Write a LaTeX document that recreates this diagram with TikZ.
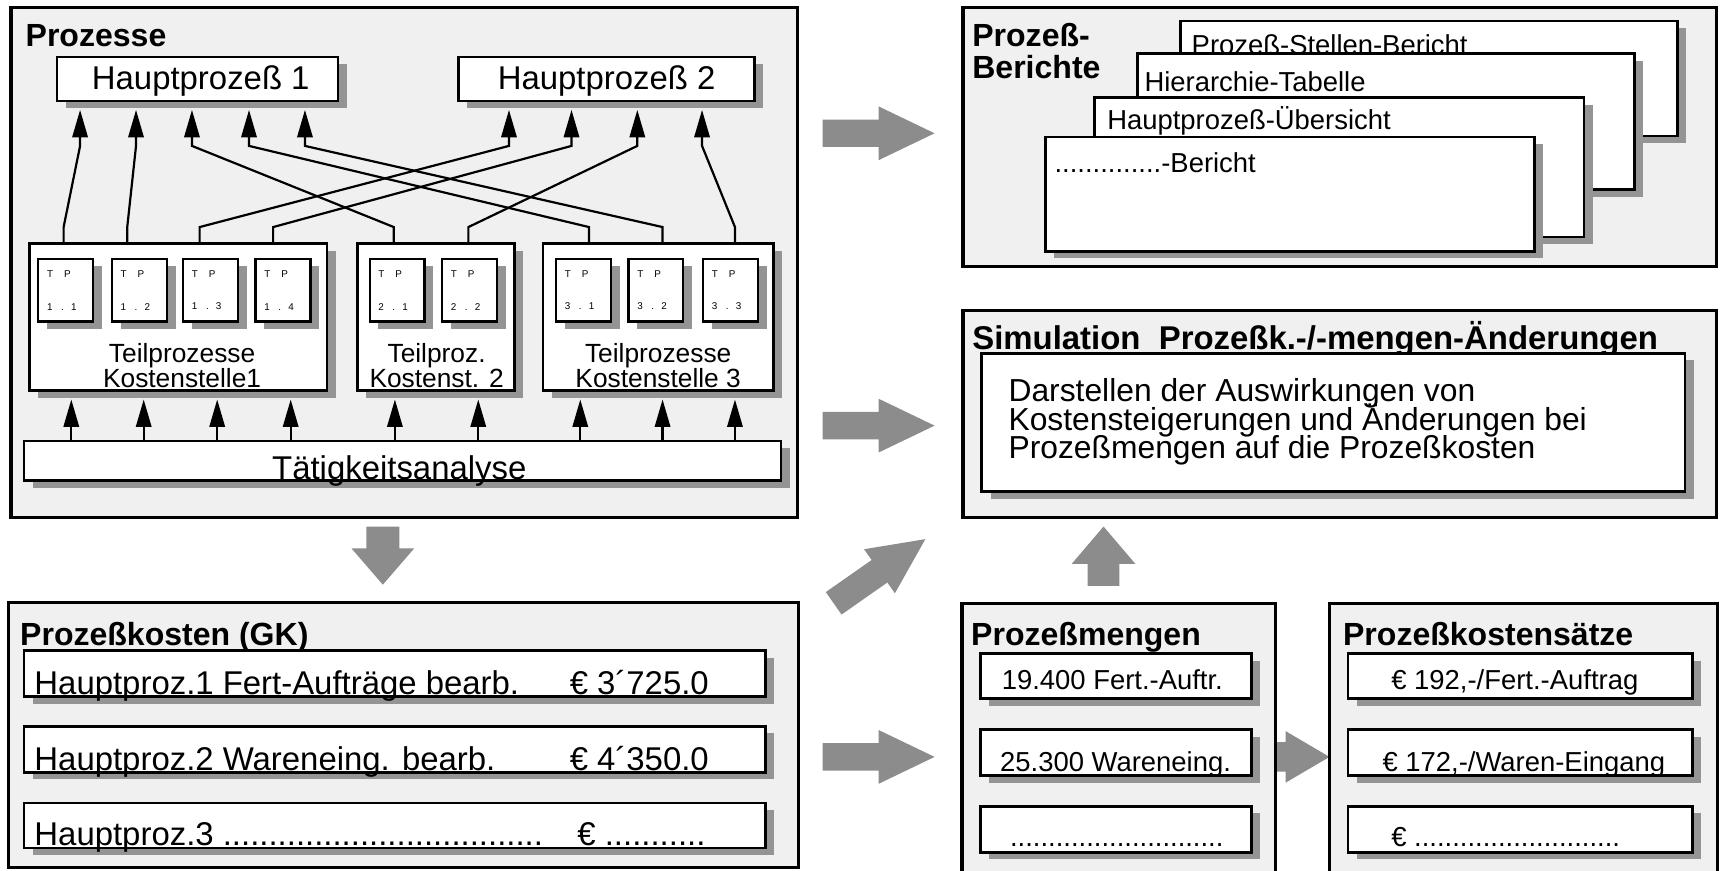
\documentclass[tikz,border=0pt]{standalone}
\usepackage{fontspec}
\setmainfont{Liberation Sans}
\usepackage{xcolor}
\usepackage{tikz}
\usetikzlibrary{arrows.meta,positioning,fit,shadows}

\definecolor{panelgray}{gray}{0.94}
\definecolor{shadegray}{gray}{0.58}
\definecolor{arrowgray}{gray}{0.55}

\newcommand{\fbig}{\fontsize{15}{14}\selectfont}
\newcommand{\fsim}{\fontsize{14.5}{13}\selectfont}
\newcommand{\fsmall}{\fontsize{12.5}{12}\selectfont}
\newcommand{\fmid}{\fontsize{12}{11.5}\selectfont}
\newcommand{\ftiny}{\fontsize{4.5}{15}\selectfont}
\newcommand{\ftitle}{\bfseries\fontsize{14.6}{15}\selectfont}

\tikzset{
  pics/blockarrow/.style args={#1/#2/#3/#4}{code={
    \fill[arrowgray] (0,-#3) -- ({#1-#2},-#3) -- ({#1-#2},-#4) -- (#1,0)
      -- ({#1-#2},#4) -- ({#1-#2},#3) -- (0,#3) -- cycle;
  }}
}

\begin{document}
\begin{tikzpicture}[
  x=0.5pt, y=-0.5pt,
  panel/.style={draw, line width=1.5pt, fill=panelgray, inner sep=0pt},
  box/.style={draw, line width=1.2pt, fill=white, inner sep=0pt,
    drop shadow={shadow xshift=4pt, shadow yshift=-3.25pt, fill=shadegray, opacity=1}},
  tp/.style={box, line width=1pt, minimum width=25pt, minimum height=28.5pt,
    text width=17pt, align=left, font=\ftiny},
  title/.style={font=\ftitle, anchor=base west, inner sep=0pt},
  txt/.style={anchor=base west, inner sep=0pt},
  link/.style={-{Triangle[length=12.5pt, width=7pt]}, line width=1pt, shorten >=3.5pt}
]
\path[use as bounding box, clip] (0,0) rectangle (1568,794);

% Block arrows
\pic at (750,121.5) {blockarrow=102/51/12.5/24.5};
\pic at (750,388) {blockarrow=102/51/12.5/24.5};
\pic[rotate=35] at (760,550) {blockarrow=102/51/12.5/24.5};
\pic at (750,690) {blockarrow=102/51/12.5/24.5};
\pic[rotate=-90] at (349,480) {blockarrow=53/33/15/28.5};
\pic[rotate=90] at (1006,534) {blockarrow=54/34/14.5/29};
\pic at (1158,690) {blockarrow=54/40/13.5/23.5};

% Panels
\node[panel, fit={(10,7) (727,472)}] (proz) {};
\node[panel, fit={(878,7) (1565,243)}] (ber) {};
\node[panel, fit={(878,283) (1565,472)}] (sim) {};
\node[panel, fit={(8,549) (728,791)}] (kost) {};
\node[panel, fit={(877,550) (1163,800)}] (meng) {};
\node[panel, fit={(1212,550) (1566,800)}] (satz) {};

% Prozesse
\node[title] (tproz) at (23,42) {Prozesse};
\node[box, fit={(52,52) (308,92)}] (hp1) {};
\node[box, fit={(418,52) (688,92)}] (hp2) {};
\node[anchor=base, inner sep=0pt, font=\fbig] (hp1txt) at (183,82) {Hauptprozeß 1};
\node[anchor=base, inner sep=0pt, font=\fbig] (hp2txt) at (553,82) {Hauptprozeß 2};
\node[box, fit={(27,222) (298,356)}] (k1) {};
\node[box, fit={(326,222) (469,356)}] (k2) {};
\node[box, fit={(495,222) (705,356)}] (k3) {};
\foreach \x/\a/\b in {35/1/1, 102/1/2, 167/1/3, 233/1/4, 337/2/1, 403/2/2, 507/3/1, 573/3/2, 641/3/3}
  \node[tp] (tp\a\b) at (\x+25,264.5) {T\hspace{5pt}P\\\a\hspace{3.9pt}.\hspace{3.3pt}\b};
\node[anchor=south, align=center, font=\fmid, inner sep=0pt] (k1txt) at (166,354) {Teilprozesse\\Kostenstelle1};
\node[anchor=south, align=center, font=\fmid, inner sep=0pt] (k2txt) at (398,354) {Teilproz.\\Kostenst. 2};
\node[anchor=south, align=center, font=\fmid, inner sep=0pt] (k3txt) at (600,354) {Teilprozesse\\Kostenstelle 3};
\node[box, fit={(22,402) (712,438)}] (tat) {};
\node[anchor=base, inner sep=0pt, font=\fbig] (tattxt) at (364,437) {Tätigkeitsanalyse};

% Connectors
\foreach \b/\k/\t/\h in {58/k1/73/hp1, 116/k1/124/hp1, 359/k2/175/hp1, 537/k3/227/hp1, 604/k3/278/hp1,
    182/k1/464/hp2, 249/k1/521/hp2, 427/k2/581/hp2, 670/k3/640/hp2}
  \draw[link] (\b,0 |- \k.north) -- (\b,207) -- (\t,133) -- (\t,0 |- \h.south);
\foreach \x/\k in {65/k1, 131/k1, 198/k1, 265/k1, 360/k2, 436/k2, 529/k3, 604/k3, 670/k3}
  \draw[link] (\x,0 |- tat.north) -- (\x,0 |- \k.south);

% Prozess-Berichte
\node[title] (tber1) at (886,42.5) {Prozeß-};
\node[title] (tber2) at (886,71.5) {Berichte};
\node[box, fit={(1076,19) (1529,124)}] (card1) {};
\node[txt, font=\fsmall] (card1txt) at (1086,50) {Prozeß-Stellen-Bericht};
\node[box, fit={(1037,49) (1490,173)}] (card2) {};
\node[txt, font=\fsmall] (card2txt) at (1043,83) {Hierarchie-Tabelle};
\node[box, fit={(998,89) (1444,216)}] (card3) {};
\node[txt, font=\fsmall] (card3txt) at (1009,118) {Hauptprozeß-Übersicht};
\node[box, fit={(953,125) (1399,229)}] (card4) {};
\node[txt, font=\fsmall] (card4txt) at (961,157) {..............-Bericht};

% Simulation
\node[title] (tsim) at (886,319) {\fontsize{15}{15}\selectfont Simulation\ \ Prozeßk.-/-mengen-Änderungen};
\node[box, fit={(895,322) (1536,448)}] (simbox) {};
\foreach \i/\t in {0/Darstellen der Auswirkungen von, 1/Kostensteigerungen und Änderungen bei, 2/Prozeßmengen auf die Prozeßkosten}
  \node[txt, font=\fsim] (simtxt\i) at (919,366+26*\i) {\t};

% Prozesskosten
\node[title] (tkost) at (18,588) {Prozeßkosten (GK)};
\node[box, fit={(22,593) (698,635)}] (row1) {};
\node[box, fit={(22,662) (698,704)}] (row2) {};
\node[box, fit={(22,732) (698,773)}] (row3) {};
\node[txt, font=\fbig] (row1a) at (31,633) {Hauptproz.1 Fert-Aufträge bearb.};
\node[txt, font=\fbig] (row1b) at (519,633) {€ 3´725.0};
\node[txt, font=\fbig] (row2a) at (31,702) {Hauptproz.2 Wareneing. bearb.};
\node[txt, font=\fbig] (row2b) at (519,702) {€ 4´350.0};
\node[txt, font=\fbig] (row3a) at (31,771) {Hauptproz.3 ...................................};
\node[txt, font=\fbig] (row3b) at (526,771) {€ ...........};

% Prozessmengen
\node[title] (tmeng) at (885,588) {Prozeßmengen};
\node[box, fit={(894,596) (1141,637)}] (m1) {};
\node[box, fit={(894,665) (1141,707)}] (m2) {};
\node[box, fit={(894,735) (1141,777)}] (m3) {};
\node[anchor=base, inner sep=0pt, font=\fsmall] (m1txt) at (1014,629) {19.400 Fert.-Auftr.};
\node[anchor=base, inner sep=0pt, font=\fsmall] (m2txt) at (1017,703) {25.300 Wareneing.};
\node[anchor=base, inner sep=0pt, font=\fsmall] (m3txt) at (1018,772) {............................};

% Prozesskostensaetze
\node[title] (tsatz) at (1224,588) {Prozeßkostensätze};
\node[box, fit={(1229,596) (1543,637)}] (s1) {};
\node[box, fit={(1229,665) (1543,707)}] (s2) {};
\node[box, fit={(1229,735) (1543,777)}] (s3) {};
\node[txt, font=\fsmall] (s1txt) at (1268,629) {€ 192,-/Fert.-Auftrag};
\node[txt, font=\fsmall] (s2txt) at (1260,703) {€ 172,-/Waren-Eingang};
\node[txt, font=\fsmall] (s3txt) at (1268,772) {€ ...........................};

\end{tikzpicture}
\end{document}
